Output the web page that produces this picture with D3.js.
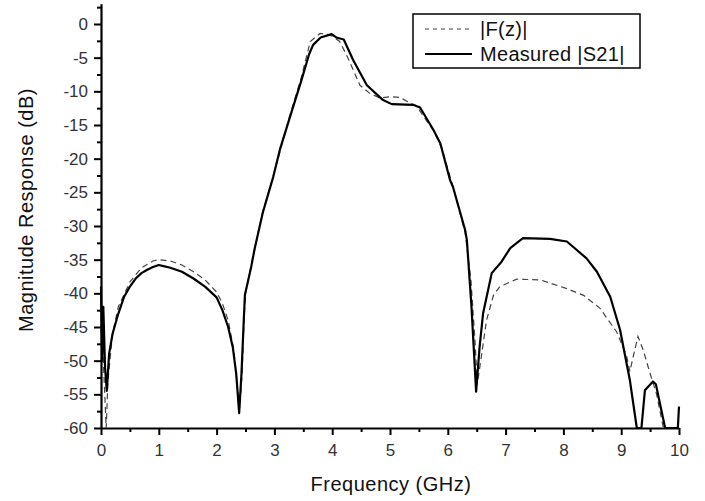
<!DOCTYPE html>
<html lang="en">
<head>
  <meta charset="utf-8"/>
  <title>Magnitude Response</title>
  <script src="https://cdnjs.cloudflare.com/ajax/libs/d3/7.8.5/d3.min.js"></script>
  <style>
    body { margin: 0; background: #fff; }
    svg { display: block; font-family: Arial, "Liberation Sans", sans-serif; }
  </style>
</head>
<body>
<svg id="chart" width="705" height="501"></svg>
<script>
  // measured |S21| (GHz, dB)
  var freqS = [0, 0.02, 0.04, 0.07, 0.1, 0.14, 0.2, 0.3, 0.4, 0.5, 0.6, 0.7, 0.8, 0.9, 1.0, 1.1, 1.2, 1.4, 1.6, 1.8,
    2.0, 2.1, 2.2, 2.28, 2.34, 2.39, 2.43, 2.47, 2.49, 2.6, 2.66, 2.8, 2.98, 3.1, 3.27, 3.47, 3.6, 3.67, 3.8, 3.99,
    4.07, 4.2, 4.36, 4.6, 4.88, 5.03, 5.4, 5.52, 5.75, 5.87, 6.04, 6.09, 6.3, 6.33, 6.41, 6.49, 6.55, 6.61, 6.76, 6.93,
    7.08, 7.3, 7.77, 8.06, 8.4, 8.58, 8.81, 8.98, 9.15, 9.27, 9.35, 9.41, 9.55, 9.6, 9.76, 9.98, 10];
  var magS = [-39, -50, -42, -51, -54.5, -49, -46, -43, -40.5, -39, -37.8, -37, -36.5, -36.1, -35.8, -36.0, -36.2, -36.8, -37.8, -39.0,
    -40.6, -42.5, -45, -48, -52, -57.8, -52, -44, -40.2, -36, -33.3, -28, -22.7, -18.5, -13.8, -8.3, -4.5, -3.1, -2.0, -1.5,
    -2.0, -2.3, -5.3, -9.1, -11.3, -11.9, -12.0, -12.4, -15.7, -17.7, -23.2, -24.2, -30.6, -32.1, -42, -54.6, -48, -43, -37, -35.3,
    -33.3, -31.8, -31.9, -32.3, -34.8, -36.8, -40.5, -45.4, -52.9, -60, -60, -54.4, -53.1, -53.5, -60, -60, -56.8];

  // |F(z)| (GHz, dB)
  var freqF = [0, 0.04, 0.09, 0.12, 0.2, 0.3, 0.5, 0.7, 0.9, 1.0, 1.2, 1.4, 1.6, 1.8, 2.0, 2.1, 2.2, 2.3, 2.36, 2.4,
    2.44, 2.48, 2.5, 2.6, 2.8, 3.0, 3.27, 3.47, 3.62, 3.79, 3.96, 4.13, 4.27, 4.48, 4.65, 4.83, 5.0, 5.17, 5.3, 5.46,
    5.75, 5.9, 6.1, 6.3, 6.4, 6.47, 6.51, 6.56, 6.67, 6.79, 6.9, 7.19, 7.6, 8.06, 8.35, 8.63, 8.92, 9.09, 9.15, 9.2,
    9.29, 9.38, 9.5, 9.61, 9.73, 10];
  var magF = [-45, -50, -60, -53, -46, -42, -38.3, -36.2, -35.2, -35.0, -35.2, -35.8, -36.8, -38.0, -39.8, -41.5, -44, -48.5, -54, -57,
    -52, -43, -40, -35.8, -27.8, -22, -13.5, -7.8, -2.6, -1.4, -1.6, -2.6, -5.0, -9.1, -10.3, -11.0, -10.8, -10.9, -11.5, -12.2,
    -15.8, -18.5, -24.5, -31, -38, -47, -53.5, -50.6, -44, -40.3, -39, -37.9, -38, -39.3, -40.3, -42.2, -45.7, -49.2, -51.6, -49.7,
    -46.4, -48.4, -51.9, -54.9, -60, -60];

  var xTicks = [0, 1, 2, 3, 4, 5, 6, 7, 8, 9, 10];
  var yTicks = [0, -5, -10, -15, -20, -25, -30, -35, -40, -45, -50, -55, -60];
  var legendNames = ["|F(z)|", "Measured |S21|"];

  var svg = d3.select("#chart");

  var x = d3.scaleLinear().domain([0, 10]).range([101, 679]);
  var y = d3.scaleLinear().domain([-60, 3]).range([428, 428 - 63 * 404 / 60]);

  // minor ticks
  var xMinor = d3.range(0.5, 10, 1);
  var yMinor = d3.range(-57.5, 3, 5);

  svg.append("g")
    .attr("transform", "translate(0,428)")
    .call(d3.axisBottom(x).tickValues(xMinor).tickSize(4).tickFormat(""))
    .call(g => g.select(".domain").remove())
    .selectAll("line").attr("stroke", "#000").attr("stroke-width", 2);

  svg.append("g")
    .attr("transform", "translate(101,0)")
    .call(d3.axisLeft(y).tickValues(yMinor).tickSize(4).tickFormat(""))
    .call(g => g.select(".domain").remove())
    .selectAll("line").attr("stroke", "#000").attr("stroke-width", 2);

  var xAxis = svg.append("g")
    .attr("transform", "translate(0,428)")
    .call(d3.axisBottom(x).tickValues(xTicks).tickSize(7).tickSizeOuter(0).tickPadding(9).tickFormat(d3.format("d")));

  var yAxis = svg.append("g")
    .attr("transform", "translate(101,0)")
    .call(d3.axisLeft(y).tickValues(yTicks).tickSize(7).tickSizeOuter(0).tickPadding(6).tickFormat(d => d3.format("d")(d).replace("−", "-")));

  [xAxis, yAxis].forEach(function(g) {
    g.select(".domain").attr("stroke", "#000").attr("stroke-width", 2.2);
    g.selectAll(".tick line").attr("stroke", "#000").attr("stroke-width", 2);
    g.selectAll(".tick text")
      .attr("fill", "#333")
      .style("font-size", "17px")
      .style("font-family", "Arial, 'Liberation Sans', sans-serif");
  });

  var line = d3.line()
    .x(d => x(d[0]))
    .y(d => y(d[1]));

  var dataF = freqF.map((f, i) => [f, magF[i]]);
  var dataS = freqS.map((f, i) => [f, magS[i]]);

  svg.append("path")
    .attr("d", line(dataF))
    .attr("fill", "none")
    .attr("stroke", "#444")
    .attr("stroke-width", 1.2)
    .attr("stroke-dasharray", "6,4");

  svg.append("path")
    .attr("d", line(dataS))
    .attr("fill", "none")
    .attr("stroke", "#000")
    .attr("stroke-width", 2.2)
    .attr("stroke-linejoin", "round");

  // axis titles
  svg.append("text")
    .attr("x", 391)
    .attr("y", 491)
    .attr("text-anchor", "middle")
    .attr("fill", "#111")
    .style("font-size", "20px")
    .style("letter-spacing", "0.5px")
    .text("Frequency (GHz)");

  svg.append("text")
    .attr("transform", "translate(33,210) rotate(-90)")
    .attr("text-anchor", "middle")
    .attr("fill", "#111")
    .style("font-size", "20px")
    .style("letter-spacing", "0.5px")
    .text("Magnitude Response (dB)");

  // legend
  var legend = svg.append("g");
  legend.append("rect")
    .attr("x", 413).attr("y", 14)
    .attr("width", 227).attr("height", 54)
    .attr("fill", "#fff")
    .attr("stroke", "#000")
    .attr("stroke-width", 1.5);

  var legendY = [29, 54];
  legendNames.forEach(function(name, i) {
    legend.append("line")
      .attr("x1", 425).attr("x2", 472)
      .attr("y1", legendY[i]).attr("y2", legendY[i])
      .attr("stroke", i === 0 ? "#444" : "#000")
      .attr("stroke-width", i === 0 ? 1.2 : 2.2)
      .attr("stroke-dasharray", i === 0 ? "4,4" : null);
    legend.append("text")
      .attr("x", 480)
      .attr("y", legendY[i] + 7)
      .attr("fill", "#111")
      .style("font-size", "20px")
      .style("letter-spacing", "0.3px")
      .text(name);
  });
</script>
</body>
</html>
